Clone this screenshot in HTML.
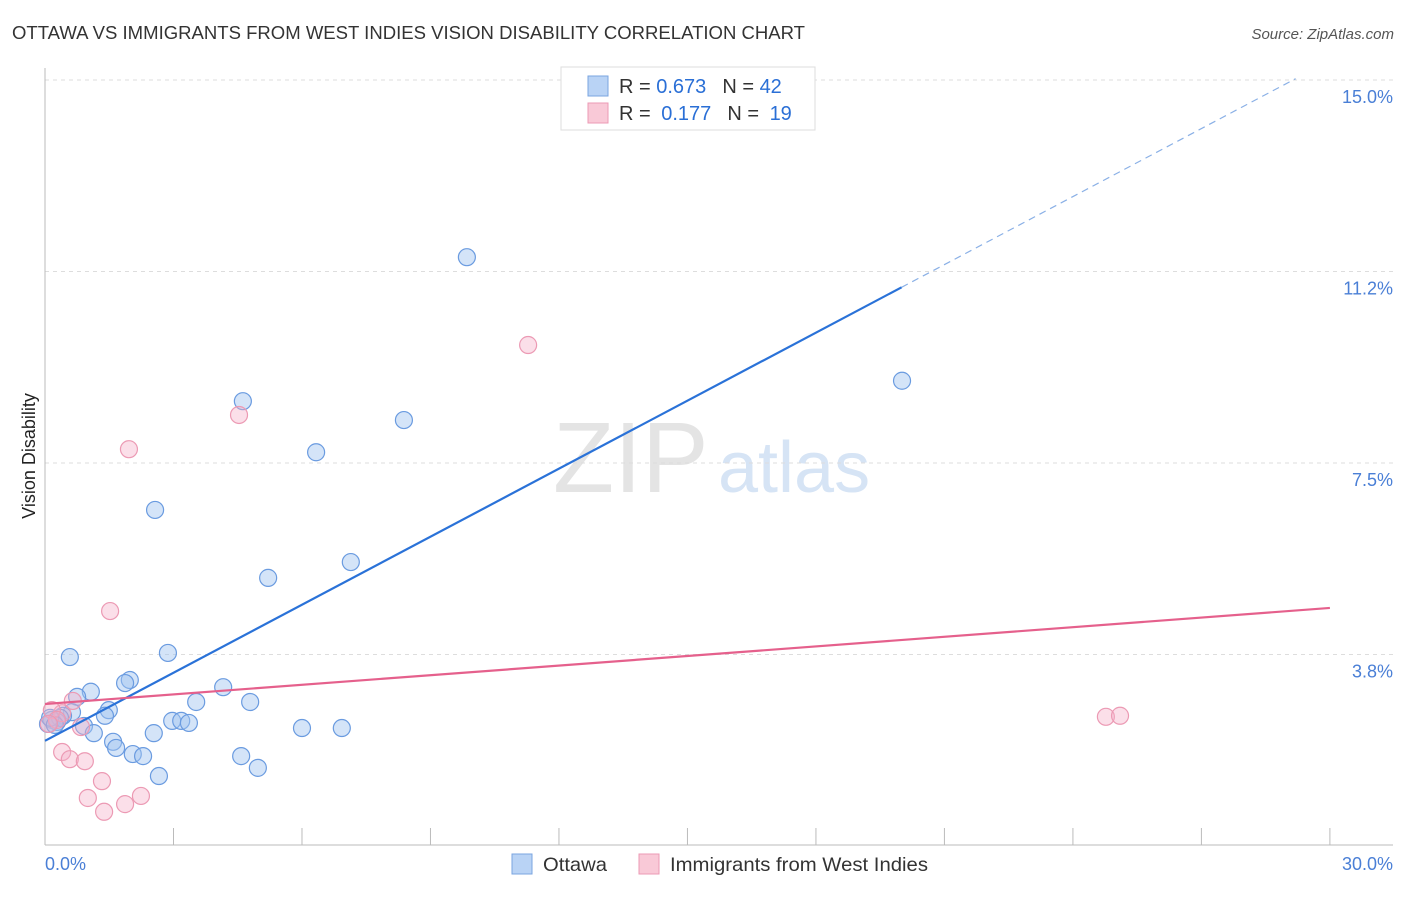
<!DOCTYPE html>
<html><head><meta charset="utf-8"><style>
body{margin:0;background:#fff;font-family:"Liberation Sans",sans-serif}
svg text{font-family:"Liberation Sans",sans-serif}
</style></head><body>
<svg id="c" width="1406" height="892">
<text x="12" y="39" font-size="18" fill="#333" textLength="793" lengthAdjust="spacingAndGlyphs">OTTAWA VS IMMIGRANTS FROM WEST INDIES VISION DISABILITY CORRELATION CHART</text>
<text x="1394" y="39" font-size="15" fill="#555" font-style="italic" text-anchor="end">Source: ZipAtlas.com</text>
<g>
<text x="553" y="492" font-size="100" fill="#e4e4e4" font-family="Liberation Serif,serif">ZIP</text>
<text x="718" y="492" font-size="72" fill="#d6e4f5">atlas</text>
</g>
<g id="grid"></g>
<line x1="45" y1="68" x2="45" y2="845" stroke="#bbb"/>
<line x1="45" y1="845" x2="1393" y2="845" stroke="#bbb"/>
<text x="35" y="456" font-size="18" fill="#222" text-anchor="middle" transform="rotate(-90 35 456)">Vision Disability</text>
<text x="45" y="870" font-size="18" fill="#4a7fd6">0.0%</text>
<text x="1393" y="870" font-size="18" fill="#4a7fd6" text-anchor="end">30.0%</text>
<g id="pts"></g>
<g id="lines"></g>
<g>
<rect x="561" y="67" width="254" height="63" fill="#fff" stroke="#ddd"/>
<rect x="588" y="76" width="20" height="20" fill="#b9d3f5" stroke="#7aa5e0"/>
<rect x="588" y="103" width="20" height="20" fill="#f9c9d7" stroke="#ec9ab4"/>
<text x="619" y="93" font-size="20" fill="#333">R = <tspan fill="#2a6fd6">0.673</tspan><tspan dx="16">N = </tspan><tspan fill="#2a6fd6">42</tspan></text>
<text x="619" y="120" font-size="20" fill="#333">R = <tspan dx="5" fill="#2a6fd6">0.177</tspan><tspan dx="16">N = </tspan><tspan dx="5" fill="#2a6fd6">19</tspan></text>
</g>
<g>
<rect x="512" y="854" width="20" height="20" fill="#b9d3f5" stroke="#7aa5e0"/>
<text x="543" y="871" font-size="19.5" fill="#333" textLength="64" lengthAdjust="spacingAndGlyphs">Ottawa</text>
<rect x="639" y="854" width="20" height="20" fill="#f9c9d7" stroke="#ec9ab4"/>
<text x="670" y="871" font-size="19.5" fill="#333" textLength="258" lengthAdjust="spacingAndGlyphs">Immigrants from West Indies</text>
</g>
</svg>
<script>
const yTicks=[3.8,7.5,11.2,15.0];
const yTickVals=[3.75,7.5,11.25,15.0];
const blueX=[9.85,4.62,8.38,6.33,20.01,2.57,7.14,5.21,0.58,2.87,1.98,1.87,1.07,0.75,4.16,3.53,4.79,1.49,1.40,0.63,0.42,0.16,0.28,0.91,1.14,2.97,3.18,3.36,2.54,6.00,6.93,1.59,1.66,2.05,2.29,4.58,4.97,2.66,0.07,0.35,0.12,0.23];
const blueY=[11.53,8.71,8.34,7.71,9.11,6.58,5.56,5.25,3.70,3.78,3.25,3.19,3.02,2.92,3.11,2.82,2.82,2.66,2.55,2.62,2.55,2.47,2.43,2.35,2.21,2.45,2.45,2.41,2.21,2.31,2.31,2.04,1.92,1.80,1.76,1.76,1.53,1.37,2.39,2.51,2.51,2.37];
const pinkX=[11.28,4.53,1.96,1.52,0.65,0.40,0.16,0.28,0.09,0.84,0.40,0.58,0.93,1.33,1.00,1.87,1.38,2.24,24.77,25.10];
const pinkY=[9.81,8.44,7.77,4.60,2.84,2.60,2.66,2.47,2.39,2.33,1.84,1.70,1.66,1.27,0.94,0.82,0.67,0.98,2.53,2.55];
const blueFit=[2.06,0.444];
const pinkFit=[2.78,0.0627];
const NS='http://www.w3.org/2000/svg';
const X=v=>45+v*42.83, Y=v=>846-v*51.07;
function mk(t,a,p){const e=document.createElementNS(NS,t);for(const k in a)e.setAttribute(k,a[k]);p.appendChild(e);return e;}
const grid=document.getElementById('grid');
yTickVals.forEach((v,i)=>{
 const l=mk('line',{x1:45,x2:1393,y1:Y(v),y2:Y(v),stroke:'#ddd','stroke-dasharray':'4,4'},grid);
 
 
 const t=mk('text',{x:1393,y:Y(v)+23,'font-size':18,fill:'#4a7fd6','text-anchor':'end'},grid);
 t.textContent=yTicks[i].toFixed(1)+'%';
 
 
});
for(let i=1;i<=10;i++){
 const t=mk('line',{x1:X(i*3),x2:X(i*3),y1:828,y2:845,stroke:'#bbb'},grid);
 
 
}
const pts=document.getElementById('pts');
blueX.forEach((x,i)=>{
 const c=mk('circle',{cx:X(x),cy:Y(blueY[i]),r:8.5,fill:'rgba(160,195,240,0.45)',stroke:'#6a9be0','stroke-width':1.2},pts);
 
 
});
pinkX.forEach((x,i)=>{
 const c=mk('circle',{cx:X(x),cy:Y(pinkY[i]),r:8.5,fill:'rgba(245,175,200,0.4)',stroke:'#ec9ab4','stroke-width':1.2},pts);
 
 
});
const lines=document.getElementById('lines');
const b1=mk('line',{x1:X(0),y1:Y(blueFit[0]),x2:X(20),y2:Y(blueFit[0]+20*blueFit[1]),stroke:'#2a72d8','stroke-width':2.2},lines);


const b2=mk('line',{x1:X(20),y1:Y(blueFit[0]+20*blueFit[1]),x2:X(29.2),y2:Y(blueFit[0]+29.2*blueFit[1]),stroke:'#8ab0e6','stroke-width':1.2,'stroke-dasharray':'7,5'},lines);


const p1=mk('line',{x1:X(0),y1:Y(pinkFit[0]),x2:X(30),y2:Y(pinkFit[0]+30*pinkFit[1]),stroke:'#e5608c','stroke-width':2.2},lines);


</script>
</body></html>
